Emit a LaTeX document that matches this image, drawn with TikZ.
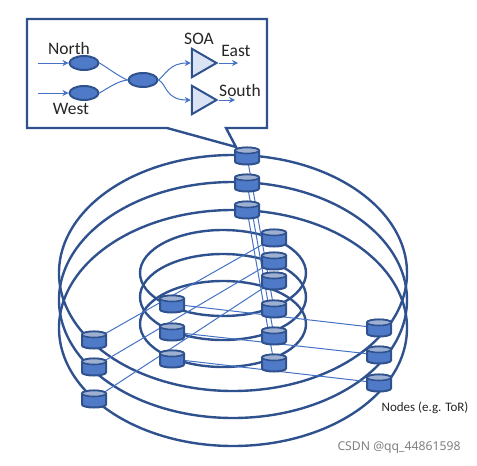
\documentclass[tikz,border=0pt]{standalone}
\usepackage{fontspec}
\setmainfont{Carlito}
\newfontfamily\markfont{Noto Sans}
\usepackage{xcolor}
\usetikzlibrary{arrows.meta, shapes.geometric}
\definecolor{ringblue}{HTML}{2F528F}
\definecolor{linkblue}{HTML}{4472C4}
\definecolor{sw}{HTML}{4F7AC7}
\definecolor{swtop}{HTML}{9DB0D2}
\definecolor{soafill}{HTML}{DAE3F3}
\begin{document}
\begin{tikzpicture}[>={Stealth[length=6pt,width=6pt]}, x=1pt, y=-1pt,
    ring/.style={draw=ringblue, line width=2.4pt},
    link/.style={draw=linkblue, line width=1pt},
    tor/.pic={
        \filldraw[draw=ringblue, fill=sw, line width=2pt] (-12,-5.5) -- (-12,5.5) arc[start angle=180, end angle=0, x radius=12, y radius=3] -- (12,-5.5) arc[start angle=0, end angle=-180, x radius=12, y radius=3] -- cycle;
        \filldraw[draw=ringblue, fill=swtop, line width=1.6pt] (0,-5.5) ellipse [x radius=12, y radius=3];
    },
    xnode/.style={ellipse, draw=ringblue, fill=sw, line width=2pt, minimum width=29pt, minimum height=14pt, inner sep=0pt},
    soa/.style={regular polygon, regular polygon sides=3, shape border rotate=-90, minimum size=33pt, inner sep=0pt, draw=ringblue, fill=soafill, line width=2pt},
    lab/.style={font=\fontsize{17.5}{18}\selectfont, text=black!85, inner sep=0pt}]
    \useasboundingbox (0,0) rectangle (477,466);
    % large rings
    \foreach \cy in {273,300,328} \draw[ring] (233,\cy) ellipse [x radius=174, y radius=118];
    % small rings
    \foreach \cy in {273,297,324} \draw[ring] (223,\cy) ellipse [x radius=83, y radius=43];
    % nodes of the rings
    \foreach \n/\x/\y in {a1/247/156, a2/247/183, a3/247/210,
        b1/274/238, b2/274/261, b3/274/281,
        c1/274/309, c2/274/336, c3/274/363,
        d1/172/304, d2/172/332, d3/172/359,
        e1/94/340, e2/94/367, e3/94/399,
        f1/379/328, f2/379/355, f3/379/383}
        \coordinate (\n) at (\x,\y);
    % links between the rings
    \foreach \a/\b in {a1/c1, a2/c2, a3/c3, e1/b1, e2/b2, e3/b3, d1/f1, d2/f2, d3/f3} \draw[link] (\a) -- (\b);
    % callout
    \draw[draw=ringblue, line width=2.4pt, fill=white, line join=miter] (27,19) -- (267,19) -- (267,128) -- (226,128) -- (236,147) -- (167,128) -- (27,128) -- cycle;
    \foreach \n in {a1,a2,a3,b1,b2,b3,c1,c2,c3,d1,d2,d3,e1,e2,e3,f1,f2,f3} \pic at (\n) {tor};
    \node[xnode] (north) at (84,63) {};
    \node[xnode] (west) at (84,93) {};
    \node[xnode] (mid) at (143,80) {};
    \node[soa] (soa1) at (200,63) {};
    \node[soa] (soa2) at (200,100) {};
    \coordinate (nin) at (38,63);
    \coordinate (win) at (38,93);
    \coordinate (eout) at (238,63);
    \coordinate (sout) at (235,100);
    \draw[link, ->] (nin) -- (north);
    \draw[link, ->] (win) -- (west);
    \draw[link] (north.east) .. controls (108,68) and (118,76) .. (mid.west);
    \draw[link] (west.east) .. controls (108,88) and (118,81) .. (mid.west);
    \draw[link, ->] (mid.east) .. controls (166,74) and (170,63) .. (soa1.west);
    \draw[link, ->] (mid.east) .. controls (167,84) and (165,100) .. (soa2.west);
    \draw[link, ->] (soa1.corner 1) -- (eout);
    \draw[link, ->] (soa2.corner 1) -- (sout);
    % texts
    \node[lab] (lnorth) at (69,48) {North};
    \node[lab] (lwest) at (71,109) {West};
    \node[lab] (lsoa) at (199,39) {SOA};
    \node[lab] (least) at (236,51) {East};
    \node[lab] (lsouth) at (240,90) {South};
    \node[font=\fontsize{13}{13}\selectfont, text=black!85, inner sep=0pt] (ltor) at (425,408) {Nodes (e.g. ToR)};
    \node[font=\markfont\fontsize{12.2}{13}\selectfont, text=gray, inner sep=0pt] (lmark) at (399,448) {CSDN @qq\_44861598};
\end{tikzpicture}
\end{document}
